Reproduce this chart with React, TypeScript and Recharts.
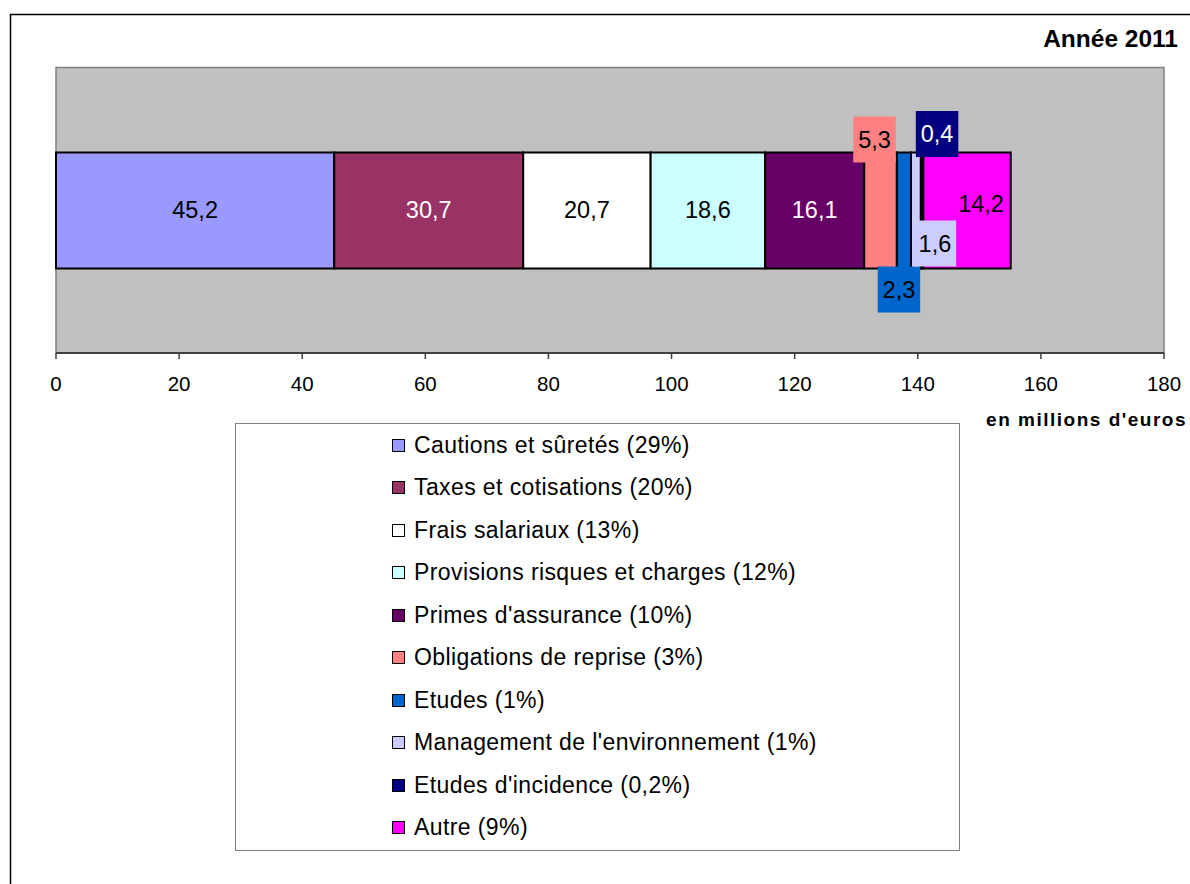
import React from 'react'
import {
  BarChart,
  Bar,
  XAxis,
  YAxis,
  Legend,
  LabelList,
  ReferenceArea,
} from 'recharts'

// Ventilation des provisions, année 2011 (en millions d'euros)
const seriesKeys = [
  'cautions',
  'taxes',
  'frais',
  'provisions',
  'primes',
  'obligations',
  'etudes',
  'management',
  'incidence',
  'autre',
]
const seriesNames = [
  'Cautions et sûretés',
  'Taxes et cotisations',
  'Frais salariaux',
  'Provisions risques et charges',
  "Primes d'assurance",
  'Obligations de reprise',
  'Etudes',
  "Management de l'environnement",
  "Etudes d'incidence",
  'Autre',
]
const seriesValues = [45.2, 30.7, 20.7, 18.6, 16.1, 5.3, 2.3, 1.6, 0.4, 14.2]
const seriesShares = ['29%', '20%', '13%', '12%', '10%', '3%', '1%', '1%', '0,2%', '9%']
const seriesColors = [
  '#9999FF',
  '#993366',
  '#FFFFFF',
  '#CCFFFF',
  '#660066',
  '#FF8080',
  '#0066CC',
  '#CCCCFF',
  '#000080',
  '#FF00FF',
]
const xTicks = [0, 20, 40, 60, 80, 100, 120, 140, 160, 180]

const FONT = '"Liberation Sans", Arial, sans-serif'

// where each value label sits relative to the middle of its segment
const labelPlacement = [
  { dx: 0, dy: -1, color: '#000', box: false },
  { dx: 0, dy: -1, color: '#fff', box: false },
  { dx: 0, dy: -1, color: '#000', box: false },
  { dx: 0, dy: -1, color: '#000', box: false },
  { dx: 0, dy: -1, color: '#fff', box: false },
  { dx: -6, dy: -71, color: '#000', box: true },
  { dx: -5, dy: 79, color: '#000', box: true },
  { dx: 19, dy: 33, color: '#000', box: true },
  { dx: 15, dy: -76.5, color: '#fff', box: true },
  { dx: 14, dy: -7, color: '#000', box: false },
]

const row: Record<string, string | number> = { name: '2011' }
seriesKeys.forEach((k, i) => {
  row[k] = seriesValues[i]
})
const data = [row]

const fmt = (v: number) => String(v).replace('.', ',')

const makeLabel = (i: number) => (props: any) => {
  const vb = props.viewBox ?? props
  const { x, y, width, height } = vb
  const p = labelPlacement[i]
  const cx = x + width / 2 + p.dx
  const cy = y + height / 2 + p.dy
  const text = fmt(Number(props.value))
  const boxW = text.length * 10.5 + 11
  return (
    <g>
      {p.box && (
        <rect
          x={cx - boxW / 2}
          y={cy - 23}
          width={boxW}
          height={46}
          fill={seriesColors[i]}
        />
      )}
      <text
        x={cx}
        y={cy}
        dy="0.36em"
        textAnchor="middle"
        fontFamily={FONT}
        fontSize={23.5}
        fill={p.color}
      >
        {text}
      </text>
    </g>
  )
}

const LegendBox = () => (
  <div style={{ fontFamily: FONT, fontSize: 23, letterSpacing: 0.4, color: '#000' }}>
    {seriesNames.map((name, i) => (
      <div
        key={name}
        style={{
          height: 42.5,
          display: 'flex',
          alignItems: 'center',
          paddingLeft: 156,
          whiteSpace: 'nowrap',
        }}
      >
        <span
          style={{
            display: 'inline-block',
            width: 11,
            height: 11,
            background: seriesColors[i],
            border: '1.5px solid #000',
            marginRight: 9,
          }}
        />
        {name} ({seriesShares[i]})
      </div>
    ))}
  </div>
)

export default function App() {
  return (
    <div style={{ position: 'absolute', left: 0, top: 0, width: 1190, height: 884, background: '#fff' }}>
      <BarChart
        width={1190}
        height={884}
        data={data}
        layout="vertical"
        margin={{ top: 64, right: 26, left: 56, bottom: 491 }}
      >
        <rect x={10.5} y={14.5} width={1300} height={1000} fill="none" stroke="#000" strokeWidth={1.5} />
        <ReferenceArea
          x1={0}
          x2={180}
          fill="#C0C0C0"
          fillOpacity={1}
          stroke="#808080"
          strokeWidth={1.5}
        />
        <XAxis
          type="number"
          domain={[0, 180]}
          ticks={xTicks}
          height={40}
          axisLine={{ stroke: '#404040', strokeWidth: 2 }}
          tickLine={{ stroke: '#404040', strokeWidth: 1.5 }}
          tickSize={6}
          tickMargin={17}
          tick={{ fill: '#000', fontSize: 20.5, fontFamily: FONT }}
        />
        <YAxis type="category" dataKey="name" hide padding={{ top: 3.5, bottom: 0 }} />
        <Legend
          layout="vertical"
          verticalAlign="middle"
          align="center"
          content={() => <LegendBox />}
          wrapperStyle={{
            left: 235,
            top: 423,
            width: 725,
            height: 428,
            border: '1.5px solid #808080',
            boxSizing: 'border-box',
            background: '#fff',
          }}
        />
        {seriesKeys.map((k, i) => (
          <Bar
            key={k}
            dataKey={k}
            name={seriesNames[i]}
            stackId="total"
            fill={seriesColors[i]}
            stroke="#000"
            strokeWidth={2}
            barSize={116}
            isAnimationActive={false}
          >
            <LabelList dataKey={k} content={makeLabel(i)} />
          </Bar>
        ))}
        <text
          x={1178}
          y={46.5}
          textAnchor="end"
          fontFamily={FONT}
          fontWeight="bold"
          fontSize={24.5}
          fill="#000"
        >
          Année 2011
        </text>
        <text
          x={1187}
          y={426}
          textAnchor="end"
          fontFamily={FONT}
          fontWeight="bold"
          fontSize={19}
          letterSpacing={1.5}
          fill="#000"
        >
          en millions d'euros
        </text>
      </BarChart>
    </div>
  )
}
